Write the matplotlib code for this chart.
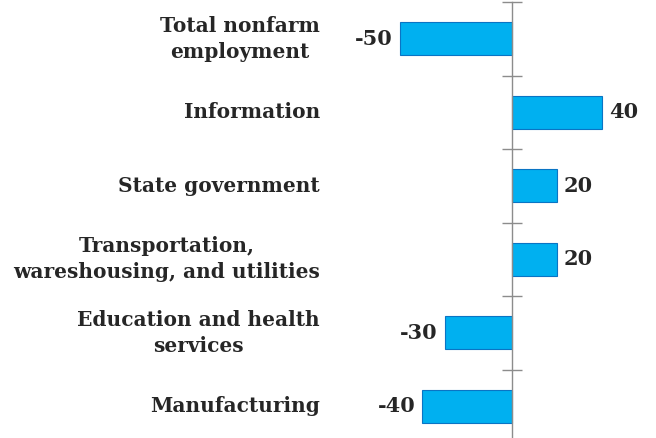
import matplotlib.pyplot as plt
import matplotlib.transforms as mtransforms
import numpy as np

categories = ['Total nonfarm\nemployment', 'Information', 'State government',
              'Transportation,\nwareshousing, and utilities',
              'Education and health\nservices', 'Manufacturing']
values = [-50, 40, 20, 20, -30, -40]

plt.rcParams['font.family'] = ['DejaVu Serif']
plt.rcParams['font.weight'] = 'bold'

fig = plt.figure(figsize=(6.56, 4.38), dpi=100)
# axes placed so that the zero line sits at ~x=512 px
ax = fig.add_axes([377 / 656, 1 - 443 / 438, 270 / 656, 441 / 438])

y = np.arange(len(categories))
ax.barh(y, values, height=0.45, color='#00B0F0', edgecolor='#0A74C4', linewidth=0.8, zorder=2)
ax.set_ylim(len(categories) - 0.5, -0.5)
ax.set_xlim(-60, 60)

for yi, v in zip(y, values):
    if v < 0:
        ax.text(v - 3, yi, str(v), ha='right', va='center', fontsize=15,
                fontweight='bold', color='#262626')
    else:
        ax.text(v + 3, yi, str(v), ha='left', va='center', fontsize=15,
                fontweight='bold', color='#262626')

# category labels, right edge at ~x=320 px, lines centred within each label
trans = mtransforms.blended_transform_factory(fig.transFigure, ax.transData)
for yi, cat in zip(y, categories):
    ax.text(320 / 656, yi, cat, transform=trans, ha='right', va='center',
            multialignment='center', fontsize=14.5, fontweight='bold',
            color='#262626', linespacing=1.4)

ax.set_yticks([])
ax.set_yticks(np.arange(len(categories) + 1) - 0.5, minor=True)
ax.set_xticks([])
ax.tick_params(axis='y', which='minor', left=False, right=True, direction='inout',
               length=14, color='#8c8c8c', width=1)

for s in ['left', 'top', 'bottom']:
    ax.spines[s].set_visible(False)
ax.spines['right'].set_position(('data', 0))
ax.spines['right'].set_color('#8c8c8c')
ax.spines['right'].set_linewidth(1)
ax.spines['right'].set_zorder(3)

fig.savefig('out.png', dpi=100)
